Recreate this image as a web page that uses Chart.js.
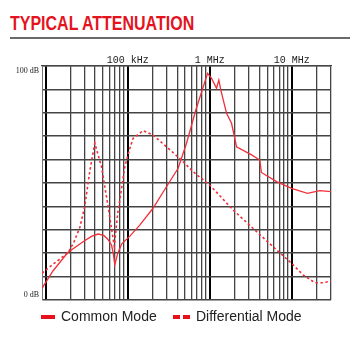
<!DOCTYPE html>
<html>
<head>
<meta charset="utf-8">
<script src="https://cdn.jsdelivr.net/npm/chart.js@4"></script>
<style>
  html, body { margin: 0; padding: 0; background: #fff; }
  #wrap { position: relative; width: 350px; height: 337px; overflow: hidden; }
  #title {
    position: absolute; left: 10px; top: 11px; line-height: 24px;
    font: bold 20.5px "Liberation Sans", Arial, sans-serif;
    color: #e3141e; white-space: nowrap;
    transform: scaleX(0.78); transform-origin: 0 0;
  }
  #rule { position: absolute; left: 10px; top: 37px; width: 340px; height: 1.5px; background: #6a6a6a; }
  canvas { position: absolute; left: 0; top: 0; }
  #legend {
    position: absolute; left: 0; top: 308px; width: 350px; height: 20px;
    font: 14px "Liberation Sans", Arial, sans-serif; color: #222;
  }
  #legend span { position: absolute; top: 0; white-space: nowrap; }
  .mk { position: absolute; height: 4px; background: #e8101c; top: 7px; }
</style>
</head>
<body>
<div id="wrap">
  <div id="title">TYPICAL ATTENUATION</div>
  <div id="rule"></div>
  <canvas id="attChart" width="350" height="337"></canvas>
  <div id="legend">
    <div class="mk" style="left:41px;width:14px"></div>
    <span style="left:61px">Common Mode</span>
    <div class="mk" style="left:173px;width:7px"></div>
    <div class="mk" style="left:183px;width:7px"></div>
    <span style="left:196px">Differential Mode</span>
  </div>
</div>
<script>
// frequency in Hz, attenuation in dB
const commonFreq = [9000, 12300, 18550, 28500, 36000, 43400, 51000, 57000, 63300, 66500, 69400, 75500, 84500,
  106000, 140000, 203000, 296000, 411000, 520000, 675000, 938000, 1049000, 1207000, 1288000, 1362000,
  1599000, 1839000, 2117000, 3225000, 4070000, 4250000, 6510000, 9920000, 15500000, 21900000, 30000000];
const commonDb = [5, 12.5, 20.3, 24.9, 27.2, 28.2, 27.6, 26, 23.5, 20, 15, 20, 24,
  27.3, 32, 39.2, 48.4, 56.3, 67, 81.2, 96.9, 94.7, 90.5, 94, 89.7,
  79.8, 75.5, 65.5, 62, 59.8, 54.5, 50.6, 47.7, 45.6, 46.7, 46.3];

const diffFreq = [9000, 12500, 18700, 21900, 26000, 29900, 34400, 39600, 47800, 57500, 68400, 76200, 80000,
  91900, 106000, 116000, 154000, 203000, 296000, 452000, 626000, 1000000, 1920000, 3540000, 6510000,
  9920000, 13700000, 19100000, 24100000, 30000000];
const diffDb = [11.4, 15.5, 20.2, 24.5, 31, 40, 55, 67, 57, 40, 23, 38.5, 42.7,
  57, 64.8, 69.1, 72.4, 70.5, 65.5, 59.8, 54.8, 49.1, 38.5, 29.9, 21.4,
  15.7, 10.7, 7.4, 7.4, 8.1];

const gridFreqs = [];
[1e4, 1e5, 1e6, 1e7].forEach(d => {
  for (let k = 1; k <= 9; k++) {
    if (d * k <= 3e7) gridFreqs.push(d * k);
  }
});
const xLabelValues = [1e5, 1e6, 1e7];
const xLabelTexts = ['100 kHz', '1 MHz', '10 MHz'];
const yLabelValues = [100, 0];
const yLabelTexts = ['100 dB', '0 dB'];

const isDecade = v => Math.abs(Math.log10(v) - Math.round(Math.log10(v))) < 1e-6;

const yLabels = {
  id: 'yLabels',
  afterDraw(chart) {
    const c = chart.ctx, y = chart.scales.y, left = chart.chartArea.left;
    c.save();
    c.font = '8px "Liberation Serif", serif';
    c.fillStyle = '#222';
    c.textAlign = 'right';
    c.textBaseline = 'middle';
    yLabelValues.forEach((v, i) => {
      const off = v === 100 ? 5 : -5;
      c.fillText(yLabelTexts[i], left - 3, y.getPixelForValue(v) + off);
    });
    c.restore();
  }
};

new Chart(document.getElementById('attChart'), {
  type: 'line',
  data: {
    datasets: [{
      label: 'Common Mode',
      data: commonFreq.map((f, i) => ({ x: f, y: commonDb[i] })),
      borderColor: '#f0303a',
      borderWidth: 1.3,
      pointRadius: 0,
      tension: 0
    }, {
      label: 'Differential Mode',
      data: diffFreq.map((f, i) => ({ x: f, y: diffDb[i] })),
      borderColor: '#f0303a',
      borderWidth: 1.6,
      borderDash: [2.5, 2.5],
      pointRadius: 0,
      tension: 0
    }]
  },
  options: {
    responsive: false,
    animation: false,
    layout: { padding: { left: 42, right: 19, top: 54, bottom: 37 } },
    plugins: { legend: { display: false }, tooltip: { enabled: false } },
    scales: {
      x: {
        type: 'logarithmic',
        position: 'top',
        min: 9000,
        max: 3e7,
        afterBuildTicks: s => { s.ticks = gridFreqs.map(v => ({ value: v })); },
        ticks: {
          autoSkip: false,
          maxRotation: 0,
          padding: 0,
          font: { family: '"Liberation Mono", monospace', size: 10 },
          color: '#222',
          callback: v => {
            const i = xLabelValues.findIndex(t => Math.abs(t - v) < 1);
            return i >= 0 ? xLabelTexts[i] : '';
          }
        },
        grid: {
          drawTicks: false,
          color: c => isDecade(c.tick.value) ? '#000' : '#444',
          lineWidth: c => isDecade(c.tick.value) ? 2 : 1.3
        },
        border: { display: true, color: '#444', width: 1.3 }
      },
      y: {
        min: 0,
        max: 100,
        ticks: { stepSize: 10, display: false },
        grid: { drawTicks: false, color: '#444', lineWidth: 1.5 },
        border: { display: true, color: '#777', width: 1 }
      }
    }
  },
  plugins: [yLabels]
});
</script>
</body>
</html>
